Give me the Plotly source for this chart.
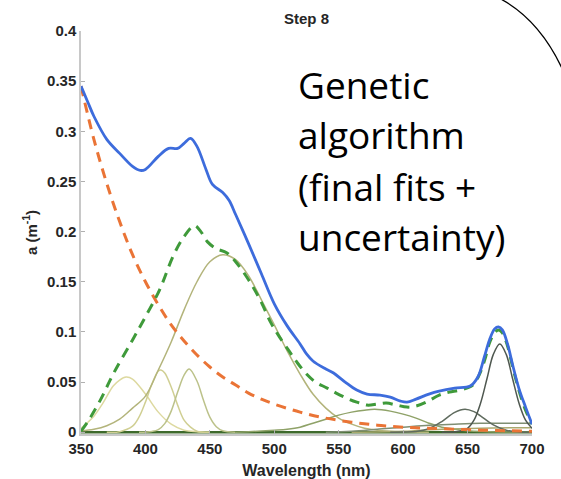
import plotly.graph_objects as go

# ---------------- data ----------------
total_wl = [350, 355, 360, 370, 380, 390, 396, 400, 410, 418, 425, 430, 435, 440, 447, 452,
            460, 465, 470, 480, 490, 500, 510, 520, 525, 530, 540, 546, 555, 564, 572, 582,
            590, 598, 603, 610, 620, 628, 640, 652, 658, 663, 667, 671, 674, 677, 681, 685,
            690, 695, 700]
total_a = [0.345, 0.330, 0.315, 0.292, 0.278, 0.265, 0.261, 0.262, 0.275, 0.283, 0.283, 0.288,
           0.293, 0.285, 0.262, 0.247, 0.239, 0.231, 0.217, 0.188, 0.158, 0.128, 0.106, 0.088,
           0.078, 0.071, 0.063, 0.059, 0.050, 0.042, 0.038, 0.037, 0.035, 0.031, 0.030, 0.033,
           0.038, 0.041, 0.044, 0.046, 0.055, 0.075, 0.092, 0.103, 0.105, 0.102, 0.088, 0.067,
           0.043, 0.025, 0.008]

cdom_wl = [350, 360, 370, 380, 390, 400, 410, 420, 430, 440, 450, 460, 470, 480, 490, 500,
           520, 540, 560, 580, 600, 620, 640, 660, 680, 700]
cdom_a = [0.345, 0.292, 0.248, 0.210, 0.177, 0.150, 0.127, 0.107, 0.091, 0.077, 0.065, 0.055,
          0.047, 0.039, 0.033, 0.028, 0.020, 0.014, 0.010, 0.007, 0.005, 0.004, 0.003, 0.002,
          0.0015, 0.001]

phyto_wl = [350, 355, 365, 375, 390, 400, 411, 422, 430, 438, 443, 448, 455, 463, 470, 480,
            489, 497, 504, 512, 518, 525, 532, 541, 548, 556, 564, 572, 580, 587, 595, 603,
            610, 618, 628, 636, 644, 654, 660, 664, 667, 671, 674, 677, 681, 685, 690, 695, 700]
phyto_a = [0.001, 0.010, 0.032, 0.058, 0.092, 0.115, 0.142, 0.177, 0.195, 0.206, 0.200, 0.190,
           0.183, 0.179, 0.170, 0.152, 0.132, 0.110, 0.095, 0.080, 0.069, 0.058, 0.050, 0.044,
           0.039, 0.034, 0.030, 0.027, 0.028, 0.029, 0.027, 0.025, 0.026, 0.030, 0.037, 0.040,
           0.042, 0.047, 0.060, 0.075, 0.089, 0.099, 0.102, 0.099, 0.086, 0.065, 0.041, 0.022,
           0.008]

# individual pigment components
c1_wl = [350, 360, 367, 375, 380, 385, 390, 400, 410, 420, 430, 440, 450]
c1_a = [0.004, 0.016, 0.029, 0.046, 0.052, 0.055, 0.053, 0.038, 0.020, 0.008, 0.002, 0.0005, 0.0]

c2_wl = [370, 380, 390, 395, 400, 405, 410, 412, 415, 420, 425, 430, 435, 440, 450]
c2_a = [0.0, 0.0005, 0.006, 0.015, 0.030, 0.048, 0.061, 0.062, 0.059, 0.045, 0.027, 0.012,
        0.005, 0.001, 0.0]

c3_wl = [395, 405, 410, 415, 420, 425, 430, 434, 440, 445, 450, 455, 460, 470]
c3_a = [0.0, 0.0008, 0.0026, 0.0085, 0.021, 0.040, 0.057, 0.063, 0.051, 0.032, 0.015, 0.0055,
        0.0015, 0.0]

c4_wl = [350, 360, 370, 380, 390, 400, 410, 420, 430, 440, 450, 460, 470, 480, 490, 500, 510,
         520, 530, 540, 550, 560, 570, 580, 600, 620]
c4_a = [0.0015, 0.003, 0.0065, 0.013, 0.024, 0.036, 0.062, 0.090, 0.122, 0.150, 0.170, 0.177,
        0.172, 0.156, 0.132, 0.107, 0.081, 0.058, 0.038, 0.024, 0.014, 0.008, 0.004, 0.002,
        0.0005, 0.0]

c5_wl = [470, 480, 500, 510, 520, 530, 540, 550, 560, 570, 578, 590, 600, 610, 620, 630, 640,
         650, 660, 680, 700]
c5_a = [0.0, 0.0005, 0.002, 0.003, 0.005, 0.009, 0.013, 0.017, 0.020, 0.022, 0.0228, 0.021,
        0.018, 0.014, 0.009, 0.005, 0.003, 0.0015, 0.0007, 0.0002, 0.0]

c6_wl = [590, 600, 610, 620, 630, 640, 648, 655, 660, 670, 680, 690, 700]
c6_a = [0.0, 0.0001, 0.0007, 0.0036, 0.0106, 0.0198, 0.023, 0.0205, 0.0163, 0.0073, 0.002,
        0.0003, 0.0]

c7_wl = [630, 640, 650, 655, 660, 665, 670, 675, 680, 685, 690, 695, 700]
c7_a = [0.0, 0.0002, 0.0039, 0.012, 0.0286, 0.053, 0.0776, 0.088, 0.0776, 0.053, 0.0286,
        0.012, 0.0039]

c8_wl = [540, 560, 580, 600, 620, 640, 660, 680, 700]
c8_a = [0.0, 0.001, 0.003, 0.005, 0.007, 0.008, 0.0088, 0.009, 0.009]

c9_wl = [560, 600, 630, 660, 700]
c9_a = [0.0, 0.001, 0.003, 0.004, 0.0045]

base_wl = [350, 700]
base_a = [0.0, 0.0]

components = [
    (c1_wl, c1_a, "#ddd9a0"),
    (c2_wl, c2_a, "#d0cf93"),
    (c3_wl, c3_a, "#bcc28a"),
    (c4_wl, c4_a, "#b3b47b"),
    (c5_wl, c5_a, "#8fa268"),
    (c9_wl, c9_a, "#a9a96f"),
    (c8_wl, c8_a, "#7f8e72"),
    (c6_wl, c6_a, "#5f6b5e"),
    (c7_wl, c7_a, "#4f5850"),
]

x_ticks = [350, 400, 450, 500, 550, 600, 650, 700]
y_ticks = [0, 0.05, 0.1, 0.15, 0.2, 0.25, 0.3, 0.35, 0.4]
y_ticktext = ["0", "0.05", "0.1", "0.15", "0.2", "0.25", "0.3", "0.35", "0.4"]

note_lines = ["Genetic", "algorithm", "(final fits +", "uncertainty)"]

# ---------------- figure ----------------
fig = go.Figure()

fig.add_trace(go.Scatter(x=base_wl, y=base_a, mode="lines",
                         line=dict(color="#3e6a2c", width=2.5), hoverinfo="skip"))
for wl, a, col in components:
    fig.add_trace(go.Scatter(x=wl, y=a, mode="lines", line_shape="spline",
                             line=dict(color=col, width=1.5), hoverinfo="skip"))

fig.add_trace(go.Scatter(x=cdom_wl, y=cdom_a, mode="lines", line_shape="spline",
                         line=dict(color="#ea7436", width=3, dash="10px,7px")))
fig.add_trace(go.Scatter(x=phyto_wl, y=phyto_a, mode="lines", line_shape="spline",
                         line=dict(color="#3f9a3a", width=3, dash="10px,7px")))
fig.add_trace(go.Scatter(x=total_wl, y=total_a, mode="lines", line_shape="spline",
                         line=dict(color="#3d6cdc", width=2.8)))

PLOT_L, PLOT_R, PLOT_T, PLOT_B = 81, 532, 31, 434
W, H = 561, 479


def px_x(px):
    return (px - PLOT_L) / (PLOT_R - PLOT_L)


def px_y(py):
    return (PLOT_B - py) / (PLOT_B - PLOT_T)


tick_font = dict(family="Liberation Sans", size=15, color="#262626", weight="bold")

fig.update_layout(
    width=W, height=H,
    margin=dict(l=PLOT_L, r=W - PLOT_R, t=PLOT_T, b=H - PLOT_B),
    paper_bgcolor="white", plot_bgcolor="white",
    showlegend=False,
    title=dict(text="Step 8", x=0.5, xref="paper", xanchor="center",
               y=1 - 19 / H, yanchor="middle",
               font=dict(family="Liberation Sans", size=15, color="#262626", weight="bold")),
    xaxis=dict(range=[350, 700], tickvals=x_ticks, ticks="inside", ticklen=4,
               tickcolor="#b0b0b0", showline=True, linecolor="#c8c8c8", linewidth=1.5,
               showgrid=False, zeroline=False, tickfont=tick_font,
               automargin=False,
               title=dict(text="Wavelength (nm)", standoff=12,
                          font=dict(family="Liberation Sans", size=16, color="#262626",
                                    weight="bold"))),
    yaxis=dict(range=[-0.0018, 0.4], tickvals=y_ticks, ticktext=y_ticktext, ticks="inside",
               ticklen=4, tickcolor="#b0b0b0", showline=True, linecolor="#c8c8c8",
               linewidth=1.5, showgrid=False, zeroline=False, tickfont=tick_font,
               automargin=False,
               title=dict(text="a (m<sup>-1</sup>)", standoff=6,
                          font=dict(family="Liberation Sans", size=15, color="#262626",
                                    weight="bold"))),
)

baselines = [98, 148, 200, 250]
for txt, bl in zip(note_lines, baselines):
    fig.add_annotation(text=txt, xref="paper", yref="paper", x=px_x(296), y=px_y(bl - 14),
                       xanchor="left", yanchor="middle", showarrow=False,
                       font=dict(family="Open Sans", size=37, color="black"))

# decorative arc in the top-right corner
p0 = (px_x(497), px_y(-3))
p1 = (px_x(528.6), px_y(12.9))
p2 = (px_x(551), px_y(42.6))
p3 = (px_x(565), px_y(75))
fig.add_shape(type="path", xref="paper", yref="paper",
              path=f"M {p0[0]},{p0[1]} C {p1[0]},{p1[1]} {p2[0]},{p2[1]} {p3[0]},{p3[1]}",
              line=dict(color="black", width=1.3))

fig.write_html("out.html")
